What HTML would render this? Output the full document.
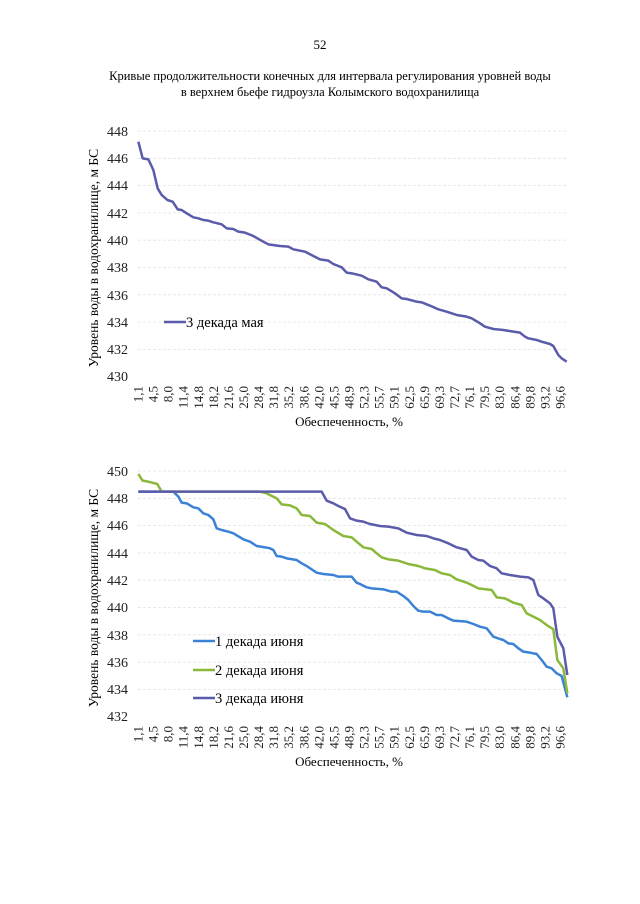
<!DOCTYPE html>
<html><head><meta charset="utf-8"><style>
html,body{margin:0;padding:0;background:#fff;}
svg{display:block;font-family:"Liberation Serif","DejaVu Serif",serif;}
</style></head><body>
<svg width="640" height="904" viewBox="0 0 640 904" xmlns="http://www.w3.org/2000/svg">
<rect width="640" height="904" fill="#fff"/>
<text x="320" y="49" font-size="13" text-anchor="middle">52</text>
<text x="330" y="80" font-size="12.5" text-anchor="middle">Кривые продолжительности конечных для интервала регулирования уровней воды</text>
<text x="330" y="96" font-size="12.5" text-anchor="middle">в верхнем бьефе гидроузла Колымского водохранилища</text>

<!-- Chart 1 -->
<g stroke="#e4e4e4" stroke-width="0.8" stroke-dasharray="3,2">
<line x1="138" x2="568" y1="131" y2="131"/><line x1="138" x2="568" y1="158.3" y2="158.3"/>
<line x1="138" x2="568" y1="185.6" y2="185.6"/><line x1="138" x2="568" y1="212.9" y2="212.9"/>
<line x1="138" x2="568" y1="240.2" y2="240.2"/><line x1="138" x2="568" y1="267.5" y2="267.5"/>
<line x1="138" x2="568" y1="294.8" y2="294.8"/><line x1="138" x2="568" y1="322.1" y2="322.1"/>
<line x1="138" x2="568" y1="349.4" y2="349.4"/>
</g>
<g font-size="14" text-anchor="end" fill="#222">
<text x="128" y="136">448</text><text x="128" y="163">446</text><text x="128" y="190">444</text>
<text x="128" y="218">442</text><text x="128" y="245">440</text><text x="128" y="272">438</text>
<text x="128" y="300">436</text><text x="128" y="327">434</text><text x="128" y="354">432</text>
<text x="128" y="381">430</text>
</g>
<text transform="translate(98,258) rotate(-90)" font-size="13.5" text-anchor="middle">Уровень воды в водохранилище, м БС</text>
<text x="349" y="426" font-size="13" text-anchor="middle">Обеспеченность, %</text>
<g transform="translate(80,120) scale(0.33333)" fill="none" stroke="#5b5bab" stroke-width="2.5" stroke-linejoin="round">
<polyline vector-effect="non-scaling-stroke" points="175,65 188,115 205,118 220,150 233,205 245,225 262,240 278,245 293,268 305,270 320,280 340,292 355,295 370,300 385,302 400,307 425,313 440,325 460,327 475,335 495,338 520,348 550,365 565,373 600,378 625,380 640,388 675,395 700,408 720,418 745,422 760,432 785,442 800,458 820,461 845,467 865,478 890,485 905,502 920,505 945,520 965,535 980,537 1010,545 1025,547 1050,557 1075,568 1100,575 1130,585 1160,590 1175,595 1200,610 1215,620 1240,627 1270,630 1300,635 1320,638 1335,650 1345,655 1370,660 1385,665 1410,672 1420,678 1435,705 1445,715 1460,725"/>
</g>
<line x1="164" x2="186" y1="322" y2="322" stroke="#5b5bab" stroke-width="2.5"/>
<text x="186" y="327" font-size="14.5">3 декада мая</text>

<!-- Chart 2 -->
<g stroke="#e4e4e4" stroke-width="0.8" stroke-dasharray="3,2">
<line x1="138" x2="568" y1="471" y2="471"/><line x1="138" x2="568" y1="498.3" y2="498.3"/>
<line x1="138" x2="568" y1="525.6" y2="525.6"/><line x1="138" x2="568" y1="552.9" y2="552.9"/>
<line x1="138" x2="568" y1="580.2" y2="580.2"/><line x1="138" x2="568" y1="607.5" y2="607.5"/>
<line x1="138" x2="568" y1="634.8" y2="634.8"/><line x1="138" x2="568" y1="662.1" y2="662.1"/>
<line x1="138" x2="568" y1="689.4" y2="689.4"/>
</g>
<g font-size="14" text-anchor="end" fill="#222">
<text x="128" y="476">450</text><text x="128" y="503">448</text><text x="128" y="530">446</text>
<text x="128" y="558">444</text><text x="128" y="585">442</text><text x="128" y="612">440</text>
<text x="128" y="640">438</text><text x="128" y="667">436</text><text x="128" y="694">434</text>
<text x="128" y="721">432</text>
</g>
<text transform="translate(98,598) rotate(-90)" font-size="13.5" text-anchor="middle">Уровень воды в водохранилище, м БС</text>
<text x="349" y="766" font-size="13" text-anchor="middle">Обеспеченность, %</text>
<g transform="translate(80,460) scale(0.33333)" fill="none" stroke-width="2.5" stroke-linejoin="round">
<polyline vector-effect="non-scaling-stroke" stroke="#3a82d6" points="175,95 280,95 295,110 305,128 320,130 340,142 355,145 370,160 385,165 400,178 410,205 425,210 445,215 460,220 490,238 510,245 530,258 555,262 570,265 580,270 590,288 605,290 620,295 650,300 665,310 680,318 710,338 730,342 760,345 775,350 815,350 830,368 840,372 860,382 875,385 910,388 935,395 950,395 970,408 985,420 1000,438 1015,452 1030,455 1050,455 1070,465 1085,465 1105,475 1120,482 1160,485 1180,492 1200,500 1220,505 1240,530 1260,537 1270,540 1285,550 1300,552 1315,565 1330,575 1350,578 1370,582 1385,600 1400,620 1415,625 1430,640 1445,648 1462,712"/>
<polyline vector-effect="non-scaling-stroke" stroke="#8ab83a" points="175,42 188,62 205,65 232,72 245,95 540,95 560,100 590,115 605,133 630,136 650,145 665,165 690,168 710,188 735,192 760,210 790,228 815,232 830,245 850,262 875,267 890,280 905,292 925,298 955,302 985,312 1015,318 1035,325 1065,330 1085,340 1110,345 1130,358 1160,368 1175,375 1195,385 1235,390 1250,412 1275,415 1300,428 1325,435 1340,460 1360,470 1380,480 1400,495 1420,508 1432,600 1450,625 1462,700"/>
<polyline vector-effect="non-scaling-stroke" stroke="#5b5bab" points="175,95 725,95 740,122 760,130 775,138 795,147 810,175 830,182 850,185 870,192 900,198 925,200 955,205 980,218 1010,225 1040,228 1060,235 1080,240 1105,250 1130,262 1160,270 1175,290 1195,300 1210,302 1230,318 1250,325 1265,340 1290,345 1320,350 1345,352 1360,360 1375,405 1390,415 1410,430 1420,445 1432,530 1450,565 1462,645"/>
</g>
<line x1="193" x2="215" y1="641" y2="641" stroke="#3a82d6" stroke-width="2.5"/>
<text x="215" y="646" font-size="14.5">1 декада июня</text>
<line x1="193" x2="215" y1="670" y2="670" stroke="#8ab83a" stroke-width="2.5"/>
<text x="215" y="675" font-size="14.5">2 декада июня</text>
<line x1="193" x2="215" y1="698" y2="698" stroke="#5b5bab" stroke-width="2.5"/>
<text x="215" y="703" font-size="14.5">3 декада июня</text>

<g font-size="13" fill="#222" text-anchor="end" id="xl"></g>
<script>
(function(){
var labs=["1,1","4,5","8,0","11,4","14,8","18,2","21,6","25,0","28,4","31,8","35,2","38,6","42,0","45,5","48,9","52,3","55,7","59,1","62,5","65,9","69,3","72,7","76,1","79,5","83,0","86,4","89,8","93,2","96,6"];
var g=document.getElementById("xl"),ns="http://www.w3.org/2000/svg";
[386,726].forEach(function(top){
labs.forEach(function(l,i){
var x=138+i*15.07+4.5;
var t=document.createElementNS(ns,"text");
t.setAttribute("transform","translate("+x+","+top+") rotate(-90)");
t.textContent=l;g.appendChild(t);});});
})();
</script>
</svg>
</body></html>
